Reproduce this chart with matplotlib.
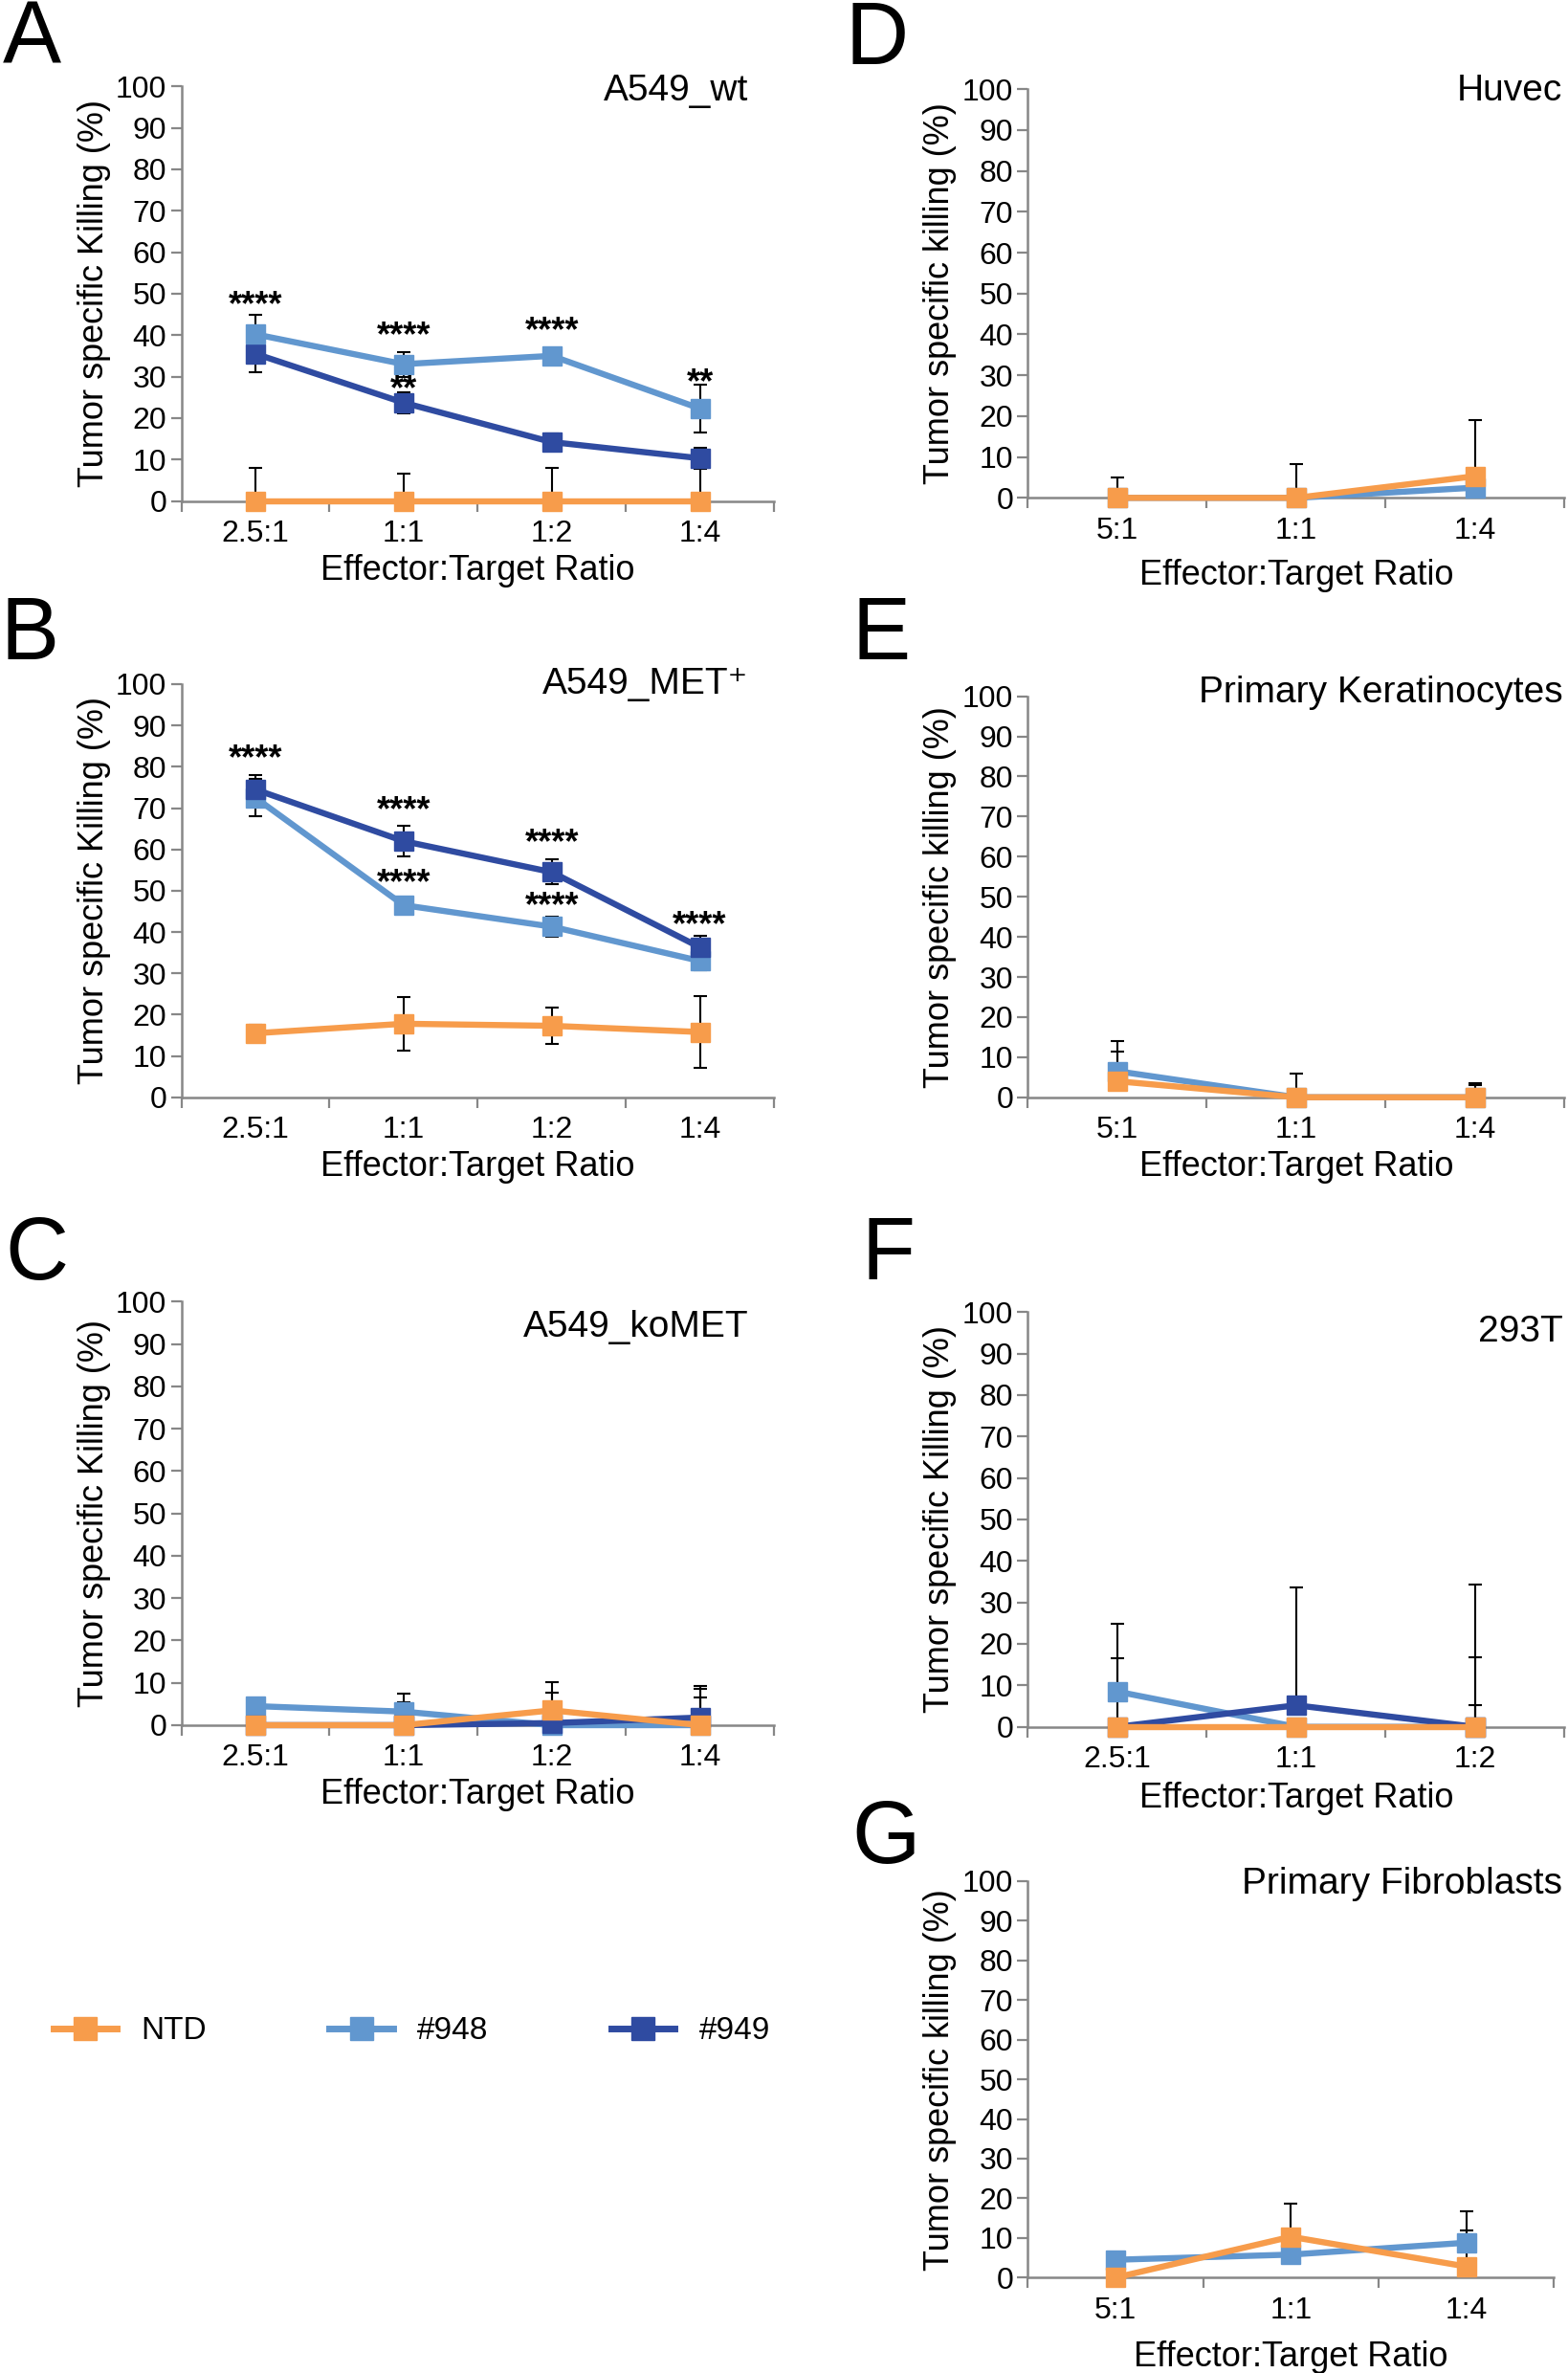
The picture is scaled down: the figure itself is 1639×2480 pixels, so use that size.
import matplotlib
matplotlib.use("Agg")
import matplotlib.pyplot as plt
from matplotlib import font_manager
from matplotlib.lines import Line2D

#pick a narrow Arial-like font if there is one, else use the regular one
names = {f.name for f in font_manager.fontManager.ttflist}
if 'Liberation Sans Narrow' in names:
    narrow = 'Liberation Sans Narrow'
    k = 1.15
else:
    narrow = 'Liberation Sans'
    k = 1.0
fam = [narrow, 'Liberation Sans', 'DejaVu Sans']
plt.rcParams['font.family'] = fam

#colors of the three series
c_ntd = '#F79C4B'
c_948 = '#6197CF'
c_949 = '#2F4BA1'

#categories
cat_a = ['2.5:1', '1:1', '1:2', '1:4']
cat_d = ['5:1', '1:1', '1:4']
cat_f = ['2.5:1', '1:1', '1:2']

#panel A  A549_wt
a_ntd = [0, 0, 0, 0]
a_948 = [40.2, 33.0, 35.0, 22.3]
a_949 = [35.5, 23.7, 14.2, 10.3]
a_ntd_err = [8.0, 6.5, 8.0, 9.0]
a_948_err = [4.6, 3.0, 1.0, 5.8]
a_949_err = [4.5, 2.5, 2.0, 2.6]
a_stars = [(0, 47.0, '****'), (1, 39.7, '****'), (1, 26.7, '**'), (2, 40.9, '****'), (3, 28.3, '**')]

#panel B  A549_MET+
b_ntd = [15.5, 17.8, 17.3, 15.8]
b_948 = [72.5, 46.5, 41.3, 33.0]
b_949 = [74.5, 62.0, 54.5, 36.3]
b_ntd_err = [2.0, 6.5, 4.3, 8.7]
b_948_err = [4.5, 1.0, 2.5, 2.2]
b_949_err = [3.5, 3.8, 3.0, 2.7]
b_stars = [(0, 81.7, '****'), (1, 69.2, '****'), (1, 51.7, '****'), (2, 61.3, '****'), (2, 46.2, '****'), (3, 41.4, '****')]

#panel C  A549_koMET
c_ntd_v = [0, 0, 3.5, 0]
c_948_v = [4.5, 3.2, 0, 0]
c_949_v = [0, 0, 0.5, 1.8]
c_ntd_err = [0, 0, 6.7, 8.5]
c_948_err = [0, 4.3, 0, 6.5]
c_949_err = [0, 5.3, 7.1, 7.5]

#panel D  Huvec
d_ntd = [0, 0, 5.3]
d_948 = [0, 0, 2.5]
d_ntd_err = [5.0, 8.3, 13.8]
d_948_err = [0, 0, 0]

#panel E  Primary Keratinocytes
e_ntd = [4.0, 0, 0]
e_948 = [6.5, 0, 0]
e_ntd_err = [7.5, 5.8, 3.1]
e_948_err = [7.5, 0, 3.6]

#panel F  293T
f_ntd = [0, 0, 0]
f_948 = [8.5, 0, 0]
f_949 = [0, 5.2, 0]
f_ntd_err = [0, 0, 5.2]
f_948_err = [16.3, 0, 16.7]
f_949_err = [16.5, 28.5, 34.3]

#panel G  Primary Fibroblasts
g_ntd = [0, 10.3, 2.8]
g_948 = [4.5, 5.8, 8.8]
g_ntd_err = [0, 8.3, 9.0]
g_948_err = [0, 0, 8.0]

fig = plt.figure(figsize=(16.4, 24.8), dpi=100)

grey = '#878787'


def panel(rect, cats, series, ylab, both, stars=None, xpad=4):
    ax = fig.add_axes(rect)
    n = len(cats)
    x = [i + 0.5 for i in range(n)]
    for vals, err, col, z in series:
        ax.plot(x, vals, color=col, lw=4.6, marker='s', ms=14, zorder=z, clip_on=False)
        #error bars sit behind the lines and markers
        if both:
            ax.errorbar(x, vals, yerr=err, fmt='none', ecolor='black', elinewidth=1.5,
                        capsize=5, capthick=1.5, zorder=2)
        else:
            ax.errorbar(x, vals, yerr=[[0] * n, err], fmt='none', ecolor='black', elinewidth=1.5,
                        capsize=5, capthick=1.5, zorder=2)
    if stars:
        for i, y, s in stars:
            ax.text(i + 0.5, y, s, ha='center', va='center', fontsize=26, fontweight='bold',
                    family='Liberation Sans', zorder=7)
    ax.set_xlim(0, n)
    ax.set_ylim(0, 100)
    ax.set_yticks(range(0, 101, 10))
    ax.set_xticks(range(n + 1))
    ax.set_xticklabels([])
    ax.set_xticks(x, minor=True)
    ax.set_xticklabels(cats, minor=True)
    ax.tick_params(axis='x', which='major', length=8, width=1.6, color=grey, direction='out')
    ax.tick_params(axis='x', which='minor', length=0, labelsize=23 * k, pad=14)
    ax.tick_params(axis='y', length=8, width=1.6, color=grey, labelsize=23 * k, pad=3)
    for s in ['top', 'right']:
        ax.spines[s].set_visible(False)
    for s in ['left', 'bottom']:
        ax.spines[s].set_color(grey)
        ax.spines[s].set_linewidth(1.8)
    ax.set_xlabel('Effector:Target Ratio', fontsize=26 * k, labelpad=xpad)
    ax.set_ylabel(ylab, fontsize=26, family='Liberation Sans', labelpad=4)
    return ax


yl1 = 'Tumor specific Killing (%)'
yl2 = 'Tumor specific killing (%)'

panel([0.1156, 0.7889, 0.3777, 0.1747], cat_a,
      [(a_948, a_948_err, c_948, 4), (a_949, a_949_err, c_949, 3), (a_ntd, a_ntd_err, c_ntd, 5)],
      yl1, True, a_stars)
panel([0.1156, 0.5376, 0.3777, 0.1741], cat_a,
      [(b_948, b_948_err, c_948, 3), (b_949, b_949_err, c_949, 4), (b_ntd, b_ntd_err, c_ntd, 5)],
      yl1, True, b_stars)
panel([0.1156, 0.2730, 0.3777, 0.1785], cat_a,
      [(c_948_v, c_948_err, c_948, 3), (c_949_v, c_949_err, c_949, 4), (c_ntd_v, c_ntd_err, c_ntd, 5)],
      yl1, False)
panel([0.6551, 0.7902, 0.3420, 0.1722], cat_d,
      [(d_948, d_948_err, c_948, 3), (d_ntd, d_ntd_err, c_ntd, 5)],
      yl2, False, xpad=10)
panel([0.6551, 0.5376, 0.3420, 0.1690], cat_d,
      [(e_948, e_948_err, c_948, 3), (e_ntd, e_ntd_err, c_ntd, 5)],
      yl2, False)
panel([0.6551, 0.2723, 0.3420, 0.1748], cat_f,
      [(f_948, f_948_err, c_948, 3), (f_949, f_949_err, c_949, 4), (f_ntd, f_ntd_err, c_ntd, 5)],
      yl1, False, xpad=6)
panel([0.6551, 0.0402, 0.3353, 0.1671], cat_d,
      [(g_948, g_948_err, c_948, 3), (g_ntd, g_ntd_err, c_ntd, 5)],
      yl2, False, xpad=12)

#panel letters
letters = ['A', 'B', 'C', 'D', 'E', 'F', 'G']
lx = [0.002, 0.0, 0.003, 0.539, 0.543, 0.549, 0.543]
ly = [1.0, 0.749, 0.488, 1.0, 0.749, 0.488, 0.242]
for t, x, y in zip(letters, lx, ly):
    fig.text(x, y, t, fontsize=66, family='Liberation Sans', ha='left', va='top')

#cell line names
titles = ['A549_wt', 'A549_MET\u207a', 'A549_koMET', 'Huvec', 'Primary Keratinocytes', '293T', 'Primary Fibroblasts']
tx = [0.477, 0.477, 0.477, 0.996, 0.996, 0.996, 0.996]
ty = [0.9617, 0.7117, 0.4407, 0.9617, 0.7079, 0.4388, 0.206]
for t, x, y in zip(titles, tx, ty):
    fig.text(x, y, t, fontsize=28 * k, ha='right', va='center')

#legend
handles = [Line2D([], [], color=c, lw=5, marker='s', ms=17) for c in [c_ntd, c_948, c_949]]
fig.legend(handles, ['NTD', '#948', '#949'], loc='center left', bbox_to_anchor=(0.034, 0.144),
           ncol=3, frameon=False, fontsize=24 * k, handlelength=2.0, handletextpad=0.75,
           columnspacing=3.85, borderaxespad=0, borderpad=0)

fig.savefig('out.png', dpi=100)
